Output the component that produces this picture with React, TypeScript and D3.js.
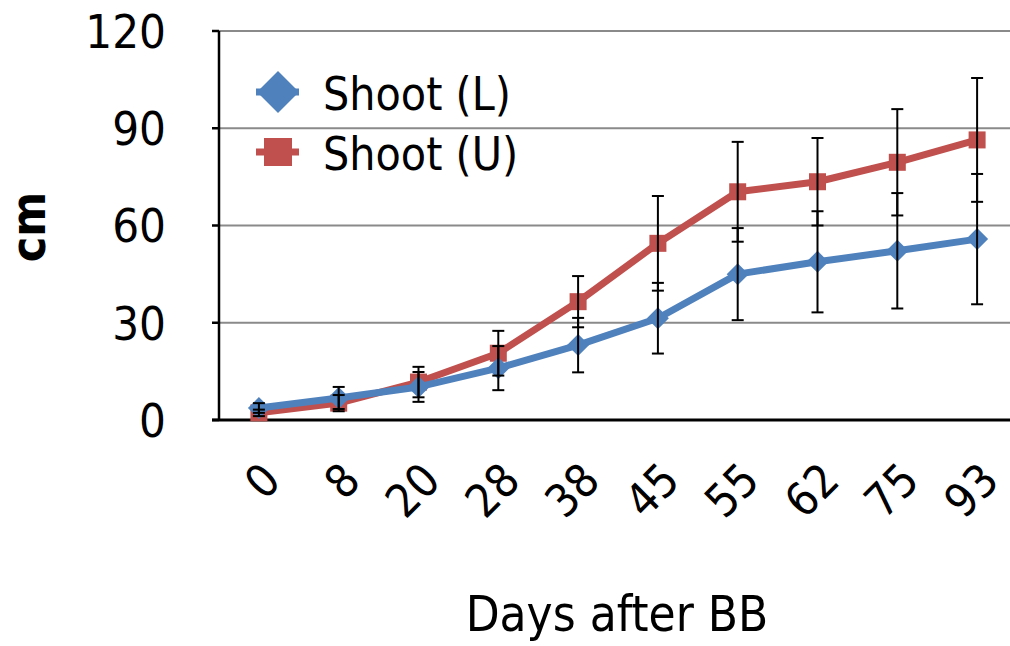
import React from "react";
import * as d3 from "d3";

// Shoot length (cm) against days after bud break
const days = ["0", "8", "20", "28", "38", "45", "55", "62", "75", "93"];
const shootL = [3.7, 6.8, 10.2, 16, 23.1, 31.4, 45, 48.8, 52.2, 55.8];
const shootLErr = [1.5, 3.4, 4.6, 6.8, 8.4, 10.9, 14.2, 15.6, 17.8, 20.1];
const shootU = [2.2, 5.2, 11.7, 20.6, 36.5, 54.5, 70.4, 73.5, 79.5, 86.4];
const shootUErr = [1, 2.5, 4.7, 6.9, 7.9, 14.6, 15.4, 13.5, 16.4, 19.1];
const yTicks = [0, 30, 60, 90, 120];

const W = 1010;
const H = 646;
const FONT = "'DejaVu Sans Condensed', 'DejaVu Sans', sans-serif";
const BLUE = "#4F81BD";
const RED = "#C0504D";

export default function App() {
  const x = d3.scaleBand<string>().domain(days).range([219, 1017]);
  const y = d3.scaleLinear().domain([0, 120]).range([420, 31]);
  const cx = (d: string) => (x(d) ?? 0) + x.bandwidth() / 2;

  const line = d3
    .line<[string, number]>()
    .x((d) => cx(d[0]))
    .y((d) => y(d[1]));

  const lPts = days.map((d, i) => [d, shootL[i]] as [string, number]);
  const uPts = days.map((d, i) => [d, shootU[i]] as [string, number]);

  const diamond = (px: number, py: number, r: number) =>
    `M${px},${py - r}L${px + r},${py}L${px},${py + r}L${px - r},${py}Z`;

  const errBars = (vals: number[], errs: number[], key: string) =>
    days.map((d, i) => {
      const px = cx(d);
      const top = y(vals[i] + errs[i]);
      const bot = y(Math.max(0, vals[i] - errs[i]));
      return (
        <g key={key + d} stroke="#000" strokeWidth={2}>
          <line x1={px} x2={px} y1={top} y2={bot} />
          <line x1={px - 6} x2={px + 6} y1={top} y2={top} />
          <line x1={px - 6} x2={px + 6} y1={bot} y2={bot} />
        </g>
      );
    });

  return (
    <svg
      width={W}
      height={H}
      style={{ position: "absolute", left: 0, top: 0, background: "#fff" }}
      fontFamily={FONT}
    >
      {/* horizontal gridlines */}
      {yTicks.slice(1).map((t) => (
        <line key={"g" + t} x1={219} x2={W} y1={y(t)} y2={y(t)} stroke="#8a8a8a" strokeWidth={2} />
      ))}

      {/* y axis */}
      <line x1={219} x2={219} y1={y(120)} y2={y(0)} stroke="#000" strokeWidth={2.5} />
      {yTicks.map((t) => (
        <g key={"yt" + t}>
          <line x1={212} x2={219} y1={y(t)} y2={y(t)} stroke="#000" strokeWidth={2.5} />
          <text x={166} y={y(t)} dy="0.36em" textAnchor="end" fontSize={47} fill="#000">
            {t}
          </text>
        </g>
      ))}

      {/* x axis */}
      <line x1={212} x2={W} y1={y(0)} y2={y(0)} stroke="#000" strokeWidth={3} />
      {days.map((d) => (
        <text
          key={"xt" + d}
          transform={`translate(${cx(d) + 24},${483}) rotate(-45)`}
          textAnchor="end"
          fontSize={46}
          fill="#000"
        >
          {d}
        </text>
      ))}

      {/* axis titles */}
      <text x={617} y={631} textAnchor="middle" fontSize={49} fill="#000">
        Days after BB
      </text>
      <text
        transform="translate(45,227) rotate(-90)"
        textAnchor="middle"
        fontSize={48}
        fontWeight="bold"
        fill="#000"
      >
        cm
      </text>

      {/* series U */}
      <path d={line(uPts) ?? ""} fill="none" stroke={RED} strokeWidth={7} strokeLinejoin="round" />
      {uPts.map(([d, v]) => (
        <rect key={"u" + d} x={cx(d) - 8.5} y={y(v) - 8.5} width={17} height={17} fill={RED} />
      ))}

      {/* series L */}
      <path d={line(lPts) ?? ""} fill="none" stroke={BLUE} strokeWidth={7} strokeLinejoin="round" />
      {lPts.map(([d, v]) => (
        <path key={"l" + d} d={diamond(cx(d), y(v), 11)} fill={BLUE} />
      ))}

      {/* error bars */}
      {errBars(shootU, shootUErr, "eu")}
      {errBars(shootL, shootLErr, "el")}

      {/* legend */}
      <g>
        <line x1={256} x2={299} y1={92} y2={92} stroke={BLUE} strokeWidth={7} />
        <path d={diamond(278, 92, 21)} fill={BLUE} />
        <text x={323} y={110} fontSize={46} fill="#000">
          Shoot (L)
        </text>
        <line x1={256} x2={299} y1={152} y2={152} stroke={RED} strokeWidth={7} />
        <rect x={264} y={138} width={28} height={28} fill={RED} />
        <text x={323} y={170} fontSize={46} fill="#000">
          Shoot (U)
        </text>
      </g>
    </svg>
  );
}
